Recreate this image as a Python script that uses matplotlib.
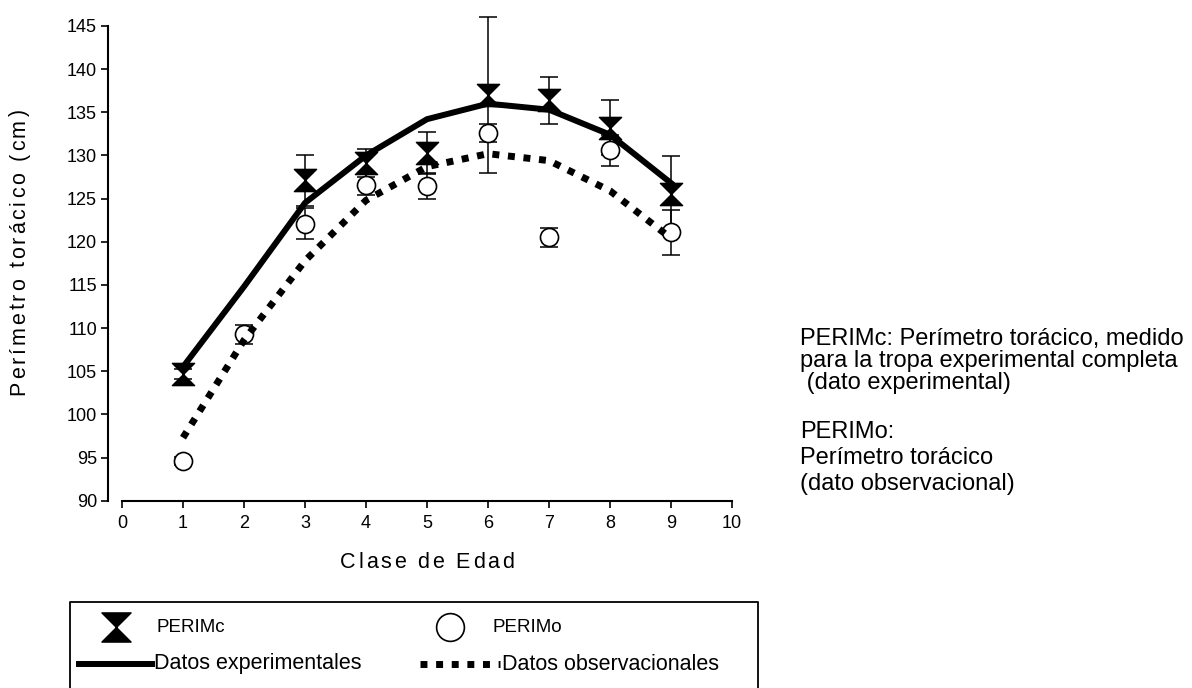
import numpy as np
import matplotlib
matplotlib.use("Agg")
import matplotlib.pyplot as plt
from matplotlib.path import Path
from matplotlib.font_manager import FontProperties

plt.rcParams['font.family'] = ['Liberation Sans', 'DejaVu Sans']

# Clase de edad
edad_c = [1, 3, 4, 5, 6, 7, 8, 9]
edad_o = [1, 2, 3, 4, 5, 6, 7, 8, 9]

# PERIMc: perímetro torácico de la tropa experimental (media y error)
perim_c = [104.7, 127.1, 129.1, 130.3, 137.0, 136.4, 133.2, 125.5]
perim_c_err = [0.6, 3.0, 1.6, 2.4, 9.0, 2.7, 3.2, 4.4]

# PERIMo: perímetro torácico observacional (media y error)
perim_o = [94.6, 109.3, 122.1, 126.6, 126.5, 132.6, 120.5, 130.6, 121.1]
perim_o_err = [0.5, 1.1, 1.8, 1.2, 1.5, 1.1, 1.1, 1.8, 2.6]

# Curvas ajustadas
curva_exp = [105.5, 114.8, 124.5, 130.0, 134.2, 136.0, 135.3, 132.4, 126.8]
curva_obs = [97.3, 108.6, 117.8, 124.8, 128.7, 130.2, 129.4, 125.9, 120.4]

# notas
nota_c = ['PERIMc: Perímetro torácico, medido',
          'para la tropa experimental completa',
          ' (dato experimental)']
nota_o = ['PERIMo:', 'Perímetro torácico', '(dato observacional)']

# marcador tipo reloj de arena
reloj = Path([(-1, 1), (1, 1), (-1, -1), (1, -1), (-1, 1)],
             [Path.MOVETO, Path.LINETO, Path.LINETO, Path.LINETO, Path.CLOSEPOLY])

W, H = 1192, 688
fig = plt.figure(figsize=(W / 100, H / 100), dpi=100)
renderer = fig.canvas.get_renderer()


def ancho(s, prop):
    # avance del texto en pixeles (el '|' evita perder espacios finales)
    w1 = renderer.get_text_width_height_descent(s + '|', prop, ismath=False)[0]
    w0 = renderer.get_text_width_height_descent('|', prop, ismath=False)[0]
    return w1 - w0


def texto_espaciado(xc, yc, s, size, track, vertical=False):
    # texto con espaciado entre letras, centrado en (xc, yc) en pixeles
    prop = FontProperties(family=['Liberation Sans'], size=size)
    total = ancho(s, prop) + track * (len(s) - 1)
    cap = 0.716 * size * 100 / 72
    for i, ch in enumerate(s):
        d = ancho(s[:i], prop) + i * track
        if vertical:
            x, y, rot = xc + cap / 2, yc + total / 2 - d, 90
        else:
            x, y, rot = xc - total / 2 + d, yc + cap / 2, 0
        fig.text(x / W, 1 - y / H, ch, fontproperties=prop, ha='left',
                 va='baseline', rotation=rot, rotation_mode='anchor')


ax = fig.add_axes([122 / W, 1 - 500.7 / H, 610 / W, 492 / H])
ax.set_xlim(0, 10)
ax.set_ylim(90, 147)

err_kw = dict(fmt='none', ecolor='black', elinewidth=1.1, capsize=6.8, capthick=1.1,
              clip_on=False, zorder=2)
ax.errorbar(edad_c, perim_c, yerr=perim_c_err, **err_kw)
ax.errorbar(edad_o, perim_o, yerr=perim_o_err, **err_kw)

ax.plot(edad_o, perim_o, linestyle='none', marker='o', markersize=13,
        markerfacecolor='white', markeredgecolor='black', markeredgewidth=1.2,
        clip_on=False, zorder=3)
ax.plot(edad_c, perim_c, linestyle='none', marker=reloj, markersize=16,
        color='black', clip_on=False, zorder=3)

ax.plot(edad_o, curva_exp, color='black', linewidth=4.3, solid_joinstyle='miter',
        zorder=4)
ax.plot(edad_o, curva_obs, color='black', linewidth=5, dashes=(1, 1.25),
        dash_capstyle='butt', zorder=4)

# ejes separados al estilo Prism
for s in ['top', 'right']:
    ax.spines[s].set_visible(False)
ax.spines['left'].set_position(('outward', 10))
ax.spines['left'].set_bounds(90, 145)
ax.spines['bottom'].set_bounds(0, 10)
for s in ['left', 'bottom']:
    ax.spines[s].set_linewidth(1.5)

ax.set_xticks(range(0, 11))
ax.set_yticks(range(90, 146, 5))
ax.tick_params(direction='out', length=5, width=1.2, labelsize=13, pad=3)
ax.tick_params(axis='x', pad=5)

texto_espaciado(427, 560, 'Clase de Edad', 15.5, 2.8)
texto_espaciado(17, 252, 'Perímetro torácico (cm)', 15.5, 2.8, vertical=True)

# notas a la derecha, una linea por texto
for i, linea in enumerate(nota_c):
    fig.text(800 / W, 1 - (345 + 22 * i) / H, linea, fontsize=17,
             va='baseline', ha='left')
for i, linea in enumerate(nota_o):
    fig.text(800 / W, 1 - (438 + 26 * i) / H, linea, fontsize=17,
             va='baseline', ha='left')

# leyenda en recuadro, coordenadas en pixeles
lg = fig.add_axes([0, 0, 1, 1], facecolor='none')
lg.set_xlim(0, W)
lg.set_ylim(H, 0)
lg.axis('off')
lg.plot([70, 70, 758, 758], [H + 5, 602, 602, H + 5], color='black', linewidth=1.3,
        clip_on=False)
lg.plot([116], [627], marker=reloj, markersize=21, color='black', linestyle='none')
lg.text(157, 627, 'PERIMc', fontsize=13.5, va='center', ha='left')
lg.plot([450], [627], marker='o', markersize=20, markerfacecolor='white',
        markeredgecolor='black', markeredgewidth=1.2, linestyle='none')
lg.text(493, 627, 'PERIMo', fontsize=13.5, va='center', ha='left')
lg.plot([79, 152], [664, 664], color='black', linewidth=4.3)
lg.text(154, 664, 'Datos experimentales', fontsize=15.5, va='center', ha='left')
lg.plot([420, 500], [664, 664], color='black', linewidth=5, dashes=(1, 1.25),
        dash_capstyle='butt')
lg.text(502, 664, 'Datos observacionales', fontsize=15.5, va='center', ha='left')

fig.savefig('out.png', dpi=100)
